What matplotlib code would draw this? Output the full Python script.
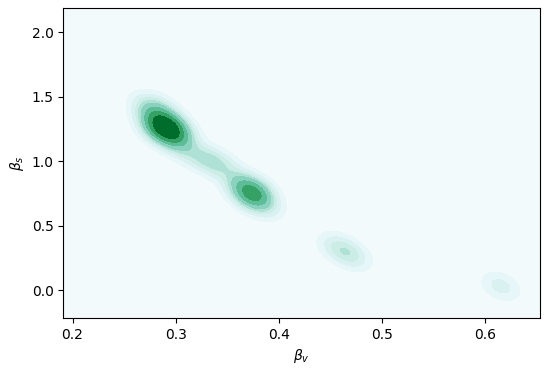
import matplotlib
matplotlib.use("Agg")
import numpy as np
import matplotlib.pyplot as plt

# estimated (beta_v, beta_s) samples
beta_v = [0.290, 0.292, 0.291, 0.289, 0.293,
          0.284, 0.298, 0.286, 0.296, 0.281, 0.301,
          0.272, 0.276, 0.306, 0.279, 0.304, 0.285,
          0.322, 0.332, 0.338, 0.344,
          0.374, 0.373, 0.375, 0.374,
          0.366, 0.382, 0.368, 0.380, 0.388, 0.360,
          0.452, 0.462, 0.466, 0.475,
          0.612, 0.618]
beta_s = [1.26, 1.25, 1.255, 1.265, 1.245,
          1.31, 1.20, 1.22, 1.29, 1.35, 1.16,
          1.44, 1.40, 1.09, 1.25, 1.24, 1.42,
          1.03, 1.00, 0.99, 0.98,
          0.75, 0.755, 0.745, 0.75,
          0.81, 0.69, 0.72, 0.79, 0.63, 0.86,
          0.36, 0.31, 0.29, 0.24,
          0.04, 0.02]

# kernel widths and tilt
bw_v = 0.014
bw_s = 0.085
rho = -0.3


def kde_grid(xs, ys, xlim, ylim, n=300):
    gx = np.linspace(xlim[0], xlim[1], n)
    gy = np.linspace(ylim[0], ylim[1], n)
    X, Y = np.meshgrid(gx, gy)
    Z = np.zeros_like(X)
    for xi, yi in zip(xs, ys):
        u = (X - xi) / bw_v
        v = (Y - yi) / bw_s
        Z += np.exp(-0.5 * (u ** 2 - 2 * rho * u * v + v ** 2) / (1 - rho ** 2))
    return X, Y, Z / Z.sum()


def iso_levels(Z, n_levels=10):
    # same idea as seaborn: contour at iso-proportions of the density mass
    props = np.linspace(0, 1, n_levels)
    vals = np.sort(Z.ravel())[::-1]
    cum = np.cumsum(vals) / vals.sum()
    idx = np.searchsorted(cum, 1 - props)
    return np.unique(np.take(vals, idx, mode="clip"))


xlim = (0.191, 0.653)
ylim = (-0.217, 2.186)
X, Y, Z = kde_grid(beta_v, beta_s, xlim, ylim)
levels = iso_levels(Z)
levels[0] = 0
levels[-1] = Z.max() * 1.0001

fig, ax = plt.subplots(figsize=(5.5, 3.7), dpi=100)
ax.contourf(X, Y, Z, levels=levels, cmap="BuGn")
ax.set_xlim(*xlim)
ax.set_ylim(*ylim)
ax.set_xlabel(r"$\beta_v$")
ax.set_ylabel(r"$\beta_s$")
fig.subplots_adjust(left=0.115, right=0.982, top=0.978, bottom=0.14)
fig.savefig("out.png")
